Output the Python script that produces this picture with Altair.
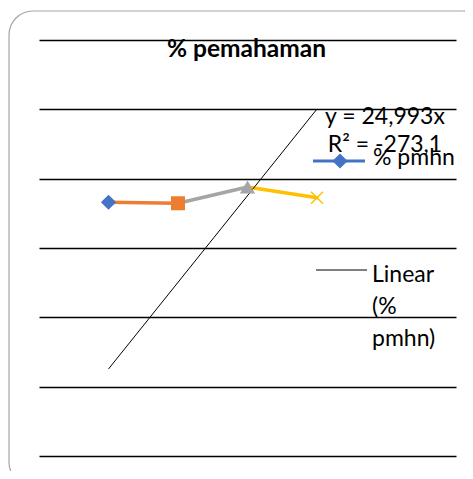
import altair as alt
import pandas as pd

# ---- data ----
points_x = [1, 2, 3, 4]
points_y = [73.2, 72.9, 77.6, 74.5]
point_colors = ["#4472C4", "#ED7D31", "#A5A5A5", "#FFC000"]
point_shapes = ["diamond", "square", "triangle-up", "M-1,-1L1,1M-1,1L1,-1"]
trend_x = [1, 4]
trend_y = [25.1, 100.1]
grid_values = [0, 20, 40, 60, 80, 100, 120]
title_text = "% pemahaman"
equation_lines = ["y = 24,993x", "R² = -273,1"]
legend_labels = ["% pmhn", "Linear (% pmhn)"]

# ---- style ----
FONT = "Lato"
FS = 23
W, H = 417, 416
shape_size = {"diamond": 230, "square": 196, "triangle-up": 230, "M-1,-1L1,1M-1,1L1,-1": 144}

xs = alt.Scale(domain=[0, 6])
ys = alt.Scale(domain=[0, 120])
yaxis = alt.Axis(values=grid_values, labels=False, ticks=False, domain=False, title=None,
                 grid=True, gridColor="#000000", gridWidth=1.3, gridOpacity=1)

one = pd.DataFrame({"a": [0]})

# border of the chart area (rounded frame)
frame = alt.Chart(one).mark_rect(cornerRadius=24, fillOpacity=0, stroke="#A6A6A6", strokeWidth=1.2).encode(
    x=alt.value(-30), x2=alt.value(448), y=alt.value(-29), y2=alt.value(446)
)

# segments, each coloured like its end point
seg_rows = []
for i in range(1, len(points_x)):
    for j in (i - 1, i):
        seg_rows.append({"seg": i, "x": points_x[j], "y": points_y[j], "c": point_colors[i]})
segs = pd.DataFrame(seg_rows)

lines = alt.Chart(segs).mark_line(strokeWidth=3.5, strokeCap="round").encode(
    x=alt.X("x:Q", scale=xs, axis=None),
    y=alt.Y("y:Q", scale=ys, axis=yaxis),
    detail="seg:N",
    color=alt.Color("c:N", scale=None),
)

pts = pd.DataFrame({"x": points_x, "y": points_y, "c": point_colors, "s": point_shapes})
pts["sz"] = pts["s"].map(shape_size)
filled_pts = alt.Chart(pts.iloc[:3]).mark_point(filled=True, opacity=1).encode(
    x=alt.X("x:Q", scale=xs, axis=None),
    y=alt.Y("y:Q", scale=ys, axis=yaxis),
    color=alt.Color("c:N", scale=None),
    shape=alt.Shape("s:N", scale=None),
    size=alt.Size("sz:Q", scale=None),
)
cross_pts = alt.Chart(pts.iloc[3:]).mark_point(filled=False, strokeWidth=1.5, opacity=1).encode(
    x=alt.X("x:Q", scale=xs, axis=None),
    y=alt.Y("y:Q", scale=ys, axis=yaxis),
    color=alt.Color("c:N", scale=None),
    shape=alt.Shape("s:N", scale=None),
    size=alt.Size("sz:Q", scale=None),
)

trend = alt.Chart(pd.DataFrame({"x": trend_x, "y": trend_y})).mark_line(color="#000000", strokeWidth=1).encode(
    x=alt.X("x:Q", scale=xs, axis=None),
    y=alt.Y("y:Q", scale=ys, axis=yaxis),
)

title = alt.Chart(pd.DataFrame({"t": [title_text]})).mark_text(
    font=FONT, fontSize=24.5, fontWeight="bold", align="center", baseline="alphabetic", color="#000000"
).encode(text="t:N", x=alt.value(207.5), y=alt.value(16.5))

eq = alt.Chart(pd.DataFrame({"t": ["\n".join(equation_lines)]})).mark_text(
    font=FONT, fontSize=FS, align="center", baseline="alphabetic", lineBreak="\n", lineHeight=28, color="#000000"
).encode(text="t:N", x=alt.value(346), y=alt.value(84))

leg_line1 = alt.Chart(one).mark_rule(color="#4472C4", strokeWidth=3).encode(
    x=alt.value(274), x2=alt.value(326), y=alt.value(121))
leg_mark1 = alt.Chart(one).mark_point(shape="diamond", filled=True, size=230, color="#4472C4", opacity=1).encode(
    x=alt.value(301), y=alt.value(121))
leg_text1 = alt.Chart(pd.DataFrame({"t": [legend_labels[0]]})).mark_text(
    font=FONT, fontSize=FS, align="left", baseline="alphabetic", color="#000000"
).encode(text="t:N", x=alt.value(334), y=alt.value(125))

leg_line2 = alt.Chart(one).mark_rule(color="#000000", strokeWidth=1).encode(
    x=alt.value(277), x2=alt.value(328), y=alt.value(230))
leg_text2 = alt.Chart(pd.DataFrame({"t": [legend_labels[1]]})).mark_text(
    font=FONT, fontSize=FS, align="left", baseline="alphabetic", lineBreak=" ", lineHeight=32, color="#000000"
).encode(text="t:N", x=alt.value(333), y=alt.value(242))

chart = alt.layer(
    frame, lines, trend, filled_pts, cross_pts, title, eq,
    leg_line1, leg_mark1, leg_text1, leg_line2, leg_text2
).properties(
    width=W, height=H,
    autosize=alt.AutoSizeParams(type="none"),
    padding={"left": 31, "top": 32, "right": 9, "bottom": 15},
    background="white",
).configure_view(stroke=None)

chart.save("out.html", embed_options={"renderer": "svg", "actions": False})
